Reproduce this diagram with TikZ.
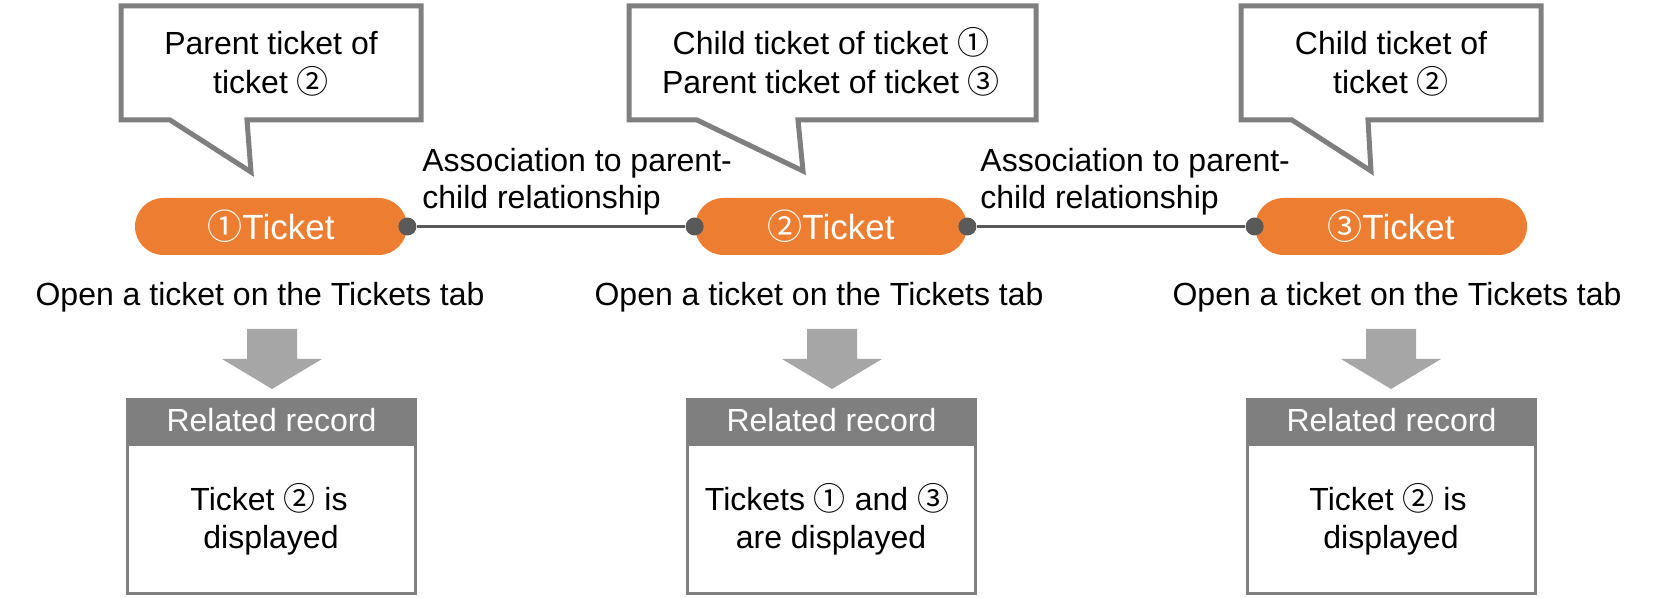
\documentclass[tikz,border=0pt]{standalone}
\usepackage{fontspec}
\setmainfont{Liberation Sans}
\newfontfamily\cjk{Noto Sans CJK JP}
\usetikzlibrary{shapes.misc}
\definecolor{tkorange}{HTML}{ED7D31}
\definecolor{linegray}{HTML}{595959}
\definecolor{boxgray}{HTML}{7F7F7F}
\definecolor{arrowgray}{HTML}{A6A6A6}
\newcommand{\cnum}[1]{{\cjk #1}}
\begin{document}
\begin{tikzpicture}[x=0.5pt,y=-0.5pt,
  txt/.style={font=\fontsize{16}{18.5}\selectfont, inner sep=0pt, anchor=base},
  txtl/.style={txt, anchor=base west},
  pill/.style={rounded rectangle, fill=tkorange, minimum width=136pt, minimum height=28.5pt,
    inner sep=0pt, text=white, font=\fontsize{17.5}{20}\selectfont},
  dot/.style={circle, fill=linegray, minimum size=9pt, inner sep=0pt},
  conn/.style={draw=linegray, line width=1.5pt},
  callout/.style={draw=boxgray, fill=white, line width=2.5pt, line join=miter},
  blockarrow/.style={fill=arrowgray},
  rechead/.style={fill=boxgray, text=white, minimum width=145.5pt, minimum height=22.5pt,
    inner sep=0pt, font=\fontsize{16}{18.5}\selectfont},
  recbody/.style={draw=boxgray, line width=1.5pt, minimum width=144pt, minimum height=74.5pt, inner sep=0pt}
]
\useasboundingbox (0,0) rectangle (1662,598);

% callouts
\draw[callout] (121,6) -- (421,6) -- (421,120) -- (247,120) -- (251,172) -- (170,120) -- (121,120) -- cycle;
\draw[callout] (629,6) -- (1036,6) -- (1036,120) -- (798,120) -- (803,171) -- (697,120) -- (629,120) -- cycle;
\draw[callout] (1241,6) -- (1541,6) -- (1541,120) -- (1368,120) -- (1371,171) -- (1292,120) -- (1241,120) -- cycle;

\node[txt] (c1a) at (271,55) {Parent ticket of};
\node[txt] (c1b) at (271,94) {ticket \cnum{②}};
\node[txt] (c2a) at (831,55) {Child ticket of ticket \cnum{①}};
\node[txt] (c2b) at (831,94) {Parent ticket of ticket \cnum{③}};
\node[txt] (c3a) at (1391,55) {Child ticket of};
\node[txt] (c3b) at (1391,94) {ticket \cnum{②}};

% tickets
\node[pill] (p1) at (271,226.5) {\cnum{①}Ticket};
\node[pill] (p2) at (831,226.5) {\cnum{②}Ticket};
\node[pill] (p3) at (1391,226.5) {\cnum{③}Ticket};

\node[dot] (d1r) at (p1.east) {};
\node[dot] (d2l) at (p2.west) {};
\node[dot] (d2r) at (p2.east) {};
\node[dot] (d3l) at (p3.west) {};
\draw[conn] (d1r) -- (d2l);
\draw[conn] (d2r) -- (d3l);

\node[txtl] (a1a) at (422,172) {Association to parent-};
\node[txtl] (a1b) at (422,209) {child relationship};
\node[txtl] (a2a) at (980,172) {Association to parent-};
\node[txtl] (a2b) at (980,209) {child relationship};

% open texts
\node[txt] (o1) at (260,305.5) {Open a ticket on the Tickets tab};
\node[txt] (o2) at (819,305.5) {Open a ticket on the Tickets tab};
\node[txt] (o3) at (1397,305.5) {Open a ticket on the Tickets tab};

% block arrows
\foreach \c/\n in {272/1, 832/2, 1391/3}{
  \fill[blockarrow] (\c-25,329) -- (\c+25,329) -- (\c+25,359) -- (\c+50,359) -- (\c,389)
    -- (\c-50,359) -- (\c-25,359) -- cycle;
}

% records
\node[rechead] (h1) at (271.5,420.5) {Related record};
\node[rechead] (h2) at (831.5,420.5) {Related record};
\node[rechead] (h3) at (1391.5,420.5) {Related record};
\node[recbody] (b1) at (271.5,519.5) {};
\node[recbody] (b2) at (831.5,519.5) {};
\node[recbody] (b3) at (1391.5,519.5) {};

\node[txt] (r1a) at (269,511) {Ticket \cnum{②} is};
\node[txt] (r1b) at (271,549) {displayed};
\node[txt] (r2a) at (827,511) {Tickets \cnum{①} and \cnum{③}};
\node[txt] (r2b) at (831,549) {are displayed};
\node[txt] (r3a) at (1388,511) {Ticket \cnum{②} is};
\node[txt] (r3b) at (1391,549) {displayed};
\end{tikzpicture}
\end{document}
